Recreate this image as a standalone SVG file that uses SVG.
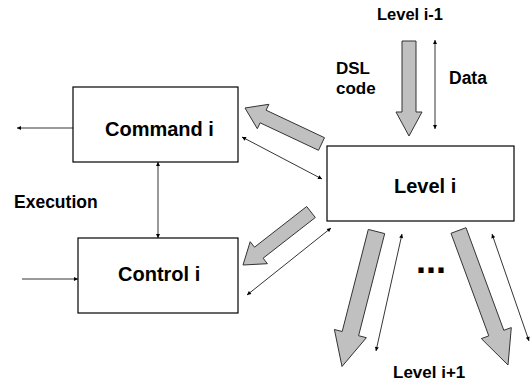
<svg xmlns="http://www.w3.org/2000/svg" width="532" height="383" viewBox="0 0 532 383">
  <style>
    .box { fill: #ffffff; stroke: #000000; stroke-width: 1.2; }
    .lbl { font-family: "Liberation Sans", Arial, sans-serif; font-weight: bold; fill: #000000; }
    .big { fill: #c0c0c0; stroke: #333333; stroke-width: 1; stroke-linejoin: miter; }
    .thin { stroke: #000000; stroke-width: 0.8; fill: none; }
  </style>
  <defs>
    <marker id="tip" viewBox="0 0 10 10" refX="10" refY="5" markerWidth="5" markerHeight="4" markerUnits="userSpaceOnUse" orient="auto-start-reverse">
      <path d="M0,0 L10,5 L0,10 z" fill="#000000"/>
    </marker>
  </defs>

  <rect width="532" height="383" fill="#ffffff"/>

  <!-- thin connectors -->
  <g id="connectors">
    <line class="thin" x1="73" y1="128" x2="17" y2="128" marker-end="url(#tip)"/>
    <line class="thin" x1="22" y1="279" x2="78" y2="279" marker-end="url(#tip)"/>
    <line class="thin" x1="158" y1="162" x2="158" y2="238" marker-start="url(#tip)" marker-end="url(#tip)"/>
    <line class="thin" x1="242" y1="137" x2="322" y2="179" marker-start="url(#tip)" marker-end="url(#tip)"/>
    <line class="thin" x1="247" y1="295" x2="331" y2="228" marker-start="url(#tip)" marker-end="url(#tip)"/>
    <line class="thin" x1="435" y1="40" x2="435" y2="129" marker-start="url(#tip)" marker-end="url(#tip)"/>
    <line class="thin" x1="376" y1="351" x2="402" y2="234" marker-start="url(#tip)" marker-end="url(#tip)"/>
    <line class="thin" x1="492" y1="234" x2="529" y2="341" marker-start="url(#tip)" marker-end="url(#tip)"/>

    <!-- wide grey flow arrows -->
    <polygon class="big" points="402,41 416,41 416,112 422,112 409,136 396,112 402,112"/>
    <polygon class="big" points="245,108 268.9,104.3 266.1,110.2 324.5,137.7 318.5,150.3 260.1,122.8 257.3,128.7"/>
    <polygon class="big" points="243,265 250.2,241.7 254.5,247.2 306.7,206.5 315.3,217.5 263.1,258.2 267.4,263.7"/>
    <polygon class="big" points="342,366.5 334.4,329.5 342.2,331.5 368.3,229.4 384.7,233.6 358.6,335.7 366.4,337.7"/>
    <polygon class="big" points="508,365 481.3,338.6 488.8,335.9 451,233.3 466,227.7 503.8,330.3 511.3,327.6"/>
  </g>

  <g id="command">
    <rect class="box" x="73" y="87" width="165" height="75"/>
    <text class="lbl" x="105" y="136" font-size="20">Command i</text>
  </g>

  <g id="control">
    <rect class="box" x="78" y="238" width="160" height="75"/>
    <text class="lbl" x="118" y="281" font-size="20">Control i</text>
  </g>

  <g id="level">
    <rect class="box" x="327" y="146" width="187" height="75"/>
    <text class="lbl" x="394" y="193" font-size="20">Level i</text>
  </g>

  <g id="labels">
    <text class="lbl" x="377" y="20" font-size="16.5">Level i-1</text>
    <text class="lbl" x="336" y="74" font-size="17">DSL</text>
    <text class="lbl" x="336" y="94" font-size="17">code</text>
    <text class="lbl" x="449" y="84" font-size="17.5">Data</text>
    <text class="lbl" x="14" y="208" font-size="17.5">Execution</text>
    <text class="lbl" x="416" y="273" font-size="36">...</text>
    <text class="lbl" x="393" y="378" font-size="17">Level i+1</text>
  </g>
</svg>
